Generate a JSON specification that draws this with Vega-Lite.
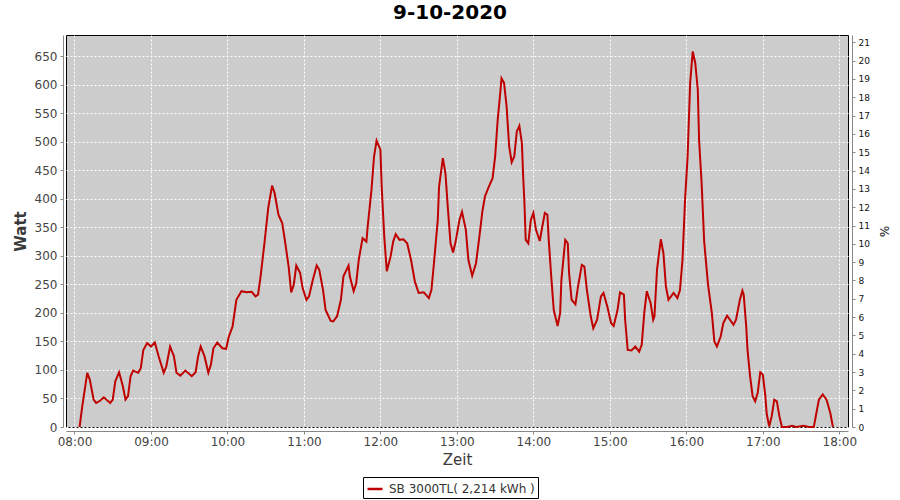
{
  "$schema": "https://vega.github.io/schema/vega-lite/v6.json",
  "width": 782,
  "height": 392,
  "autosize": {"type": "none"},
  "padding": {"left": 66, "top": 35, "right": 52, "bottom": 73},
  "background": "white",
  "config": {
    "font": "DejaVu Sans",
    "view": {"fill": "#cccccc", "stroke": "#000000", "strokeWidth": 1}
  },
  "title": {
    "text": "9-10-2020",
    "font": "DejaVu Sans",
    "fontSize": 20,
    "fontWeight": "bold",
    "color": "#000000",
    "anchor": "middle",
    "frame": "group",
    "dx": -7,
    "offset": 12
  },
  "data": {
    "values": [
      {"t": "2020-09-10T08:04:00", "w": 0},
      {"t": "2020-09-10T08:06:00", "w": 35},
      {"t": "2020-09-10T08:10:00", "w": 95},
      {"t": "2020-09-10T08:12:00", "w": 83},
      {"t": "2020-09-10T08:15:00", "w": 48},
      {"t": "2020-09-10T08:17:00", "w": 42},
      {"t": "2020-09-10T08:20:00", "w": 46},
      {"t": "2020-09-10T08:23:00", "w": 52},
      {"t": "2020-09-10T08:28:00", "w": 42},
      {"t": "2020-09-10T08:30:00", "w": 48},
      {"t": "2020-09-10T08:32:00", "w": 80},
      {"t": "2020-09-10T08:35:00", "w": 96},
      {"t": "2020-09-10T08:38:00", "w": 71},
      {"t": "2020-09-10T08:40:00", "w": 48},
      {"t": "2020-09-10T08:42:00", "w": 54},
      {"t": "2020-09-10T08:44:00", "w": 89},
      {"t": "2020-09-10T08:46:00", "w": 99},
      {"t": "2020-09-10T08:50:00", "w": 95},
      {"t": "2020-09-10T08:52:00", "w": 103},
      {"t": "2020-09-10T08:54:00", "w": 135},
      {"t": "2020-09-10T08:57:00", "w": 147},
      {"t": "2020-09-10T09:00:00", "w": 141},
      {"t": "2020-09-10T09:03:00", "w": 148},
      {"t": "2020-09-10T09:06:00", "w": 124},
      {"t": "2020-09-10T09:10:00", "w": 95},
      {"t": "2020-09-10T09:12:00", "w": 106},
      {"t": "2020-09-10T09:15:00", "w": 141},
      {"t": "2020-09-10T09:18:00", "w": 124},
      {"t": "2020-09-10T09:20:00", "w": 95},
      {"t": "2020-09-10T09:23:00", "w": 90},
      {"t": "2020-09-10T09:27:00", "w": 99},
      {"t": "2020-09-10T09:32:00", "w": 89},
      {"t": "2020-09-10T09:35:00", "w": 96},
      {"t": "2020-09-10T09:37:00", "w": 124},
      {"t": "2020-09-10T09:39:00", "w": 141},
      {"t": "2020-09-10T09:42:00", "w": 124},
      {"t": "2020-09-10T09:45:00", "w": 95},
      {"t": "2020-09-10T09:47:00", "w": 109},
      {"t": "2020-09-10T09:49:00", "w": 138},
      {"t": "2020-09-10T09:52:00", "w": 148},
      {"t": "2020-09-10T09:56:00", "w": 138},
      {"t": "2020-09-10T09:59:00", "w": 137},
      {"t": "2020-09-10T10:01:00", "w": 158},
      {"t": "2020-09-10T10:04:00", "w": 176},
      {"t": "2020-09-10T10:07:00", "w": 223},
      {"t": "2020-09-10T10:11:00", "w": 238},
      {"t": "2020-09-10T10:15:00", "w": 236},
      {"t": "2020-09-10T10:19:00", "w": 237},
      {"t": "2020-09-10T10:22:00", "w": 229},
      {"t": "2020-09-10T10:24:00", "w": 232},
      {"t": "2020-09-10T10:26:00", "w": 264},
      {"t": "2020-09-10T10:29:00", "w": 322},
      {"t": "2020-09-10T10:32:00", "w": 384},
      {"t": "2020-09-10T10:35:00", "w": 423},
      {"t": "2020-09-10T10:37:00", "w": 410},
      {"t": "2020-09-10T10:40:00", "w": 372},
      {"t": "2020-09-10T10:43:00", "w": 357},
      {"t": "2020-09-10T10:45:00", "w": 328},
      {"t": "2020-09-10T10:48:00", "w": 281},
      {"t": "2020-09-10T10:50:00", "w": 236},
      {"t": "2020-09-10T10:52:00", "w": 249},
      {"t": "2020-09-10T10:54:00", "w": 283},
      {"t": "2020-09-10T10:57:00", "w": 270},
      {"t": "2020-09-10T10:59:00", "w": 243},
      {"t": "2020-09-10T11:02:00", "w": 223},
      {"t": "2020-09-10T11:04:00", "w": 229},
      {"t": "2020-09-10T11:07:00", "w": 258},
      {"t": "2020-09-10T11:10:00", "w": 283},
      {"t": "2020-09-10T11:12:00", "w": 276},
      {"t": "2020-09-10T11:15:00", "w": 240},
      {"t": "2020-09-10T11:17:00", "w": 205},
      {"t": "2020-09-10T11:21:00", "w": 186},
      {"t": "2020-09-10T11:23:00", "w": 185},
      {"t": "2020-09-10T11:26:00", "w": 194},
      {"t": "2020-09-10T11:29:00", "w": 223},
      {"t": "2020-09-10T11:31:00", "w": 264},
      {"t": "2020-09-10T11:35:00", "w": 283},
      {"t": "2020-09-10T11:36:00", "w": 264},
      {"t": "2020-09-10T11:39:00", "w": 238},
      {"t": "2020-09-10T11:41:00", "w": 252},
      {"t": "2020-09-10T11:43:00", "w": 293},
      {"t": "2020-09-10T11:46:00", "w": 331},
      {"t": "2020-09-10T11:49:00", "w": 325},
      {"t": "2020-09-10T11:50:00", "w": 351},
      {"t": "2020-09-10T11:53:00", "w": 416},
      {"t": "2020-09-10T11:55:00", "w": 474},
      {"t": "2020-09-10T11:57:00", "w": 502},
      {"t": "2020-09-10T12:00:00", "w": 486},
      {"t": "2020-09-10T12:01:00", "w": 421},
      {"t": "2020-09-10T12:03:00", "w": 334},
      {"t": "2020-09-10T12:05:00", "w": 273},
      {"t": "2020-09-10T12:08:00", "w": 299},
      {"t": "2020-09-10T12:10:00", "w": 325},
      {"t": "2020-09-10T12:12:00", "w": 338},
      {"t": "2020-09-10T12:15:00", "w": 328},
      {"t": "2020-09-10T12:18:00", "w": 329},
      {"t": "2020-09-10T12:21:00", "w": 322},
      {"t": "2020-09-10T12:24:00", "w": 293},
      {"t": "2020-09-10T12:27:00", "w": 255},
      {"t": "2020-09-10T12:30:00", "w": 235},
      {"t": "2020-09-10T12:34:00", "w": 236},
      {"t": "2020-09-10T12:38:00", "w": 226},
      {"t": "2020-09-10T12:40:00", "w": 240},
      {"t": "2020-09-10T12:42:00", "w": 287},
      {"t": "2020-09-10T12:45:00", "w": 363},
      {"t": "2020-09-10T12:46:00", "w": 421},
      {"t": "2020-09-10T12:49:00", "w": 471},
      {"t": "2020-09-10T12:51:00", "w": 445},
      {"t": "2020-09-10T12:53:00", "w": 381},
      {"t": "2020-09-10T12:55:00", "w": 322},
      {"t": "2020-09-10T12:57:00", "w": 306},
      {"t": "2020-09-10T12:59:00", "w": 325},
      {"t": "2020-09-10T13:02:00", "w": 363},
      {"t": "2020-09-10T13:04:00", "w": 377},
      {"t": "2020-09-10T13:07:00", "w": 346},
      {"t": "2020-09-10T13:09:00", "w": 293},
      {"t": "2020-09-10T13:12:00", "w": 265},
      {"t": "2020-09-10T13:15:00", "w": 287},
      {"t": "2020-09-10T13:18:00", "w": 340},
      {"t": "2020-09-10T13:20:00", "w": 378},
      {"t": "2020-09-10T13:22:00", "w": 404},
      {"t": "2020-09-10T13:25:00", "w": 421},
      {"t": "2020-09-10T13:28:00", "w": 436},
      {"t": "2020-09-10T13:30:00", "w": 474},
      {"t": "2020-09-10T13:32:00", "w": 538},
      {"t": "2020-09-10T13:34:00", "w": 585},
      {"t": "2020-09-10T13:35:00", "w": 611},
      {"t": "2020-09-10T13:37:00", "w": 603},
      {"t": "2020-09-10T13:39:00", "w": 562},
      {"t": "2020-09-10T13:41:00", "w": 492},
      {"t": "2020-09-10T13:43:00", "w": 464},
      {"t": "2020-09-10T13:45:00", "w": 474},
      {"t": "2020-09-10T13:47:00", "w": 518},
      {"t": "2020-09-10T13:49:00", "w": 528},
      {"t": "2020-09-10T13:51:00", "w": 497},
      {"t": "2020-09-10T13:52:00", "w": 439},
      {"t": "2020-09-10T13:53:00", "w": 392},
      {"t": "2020-09-10T13:54:00", "w": 328},
      {"t": "2020-09-10T13:56:00", "w": 322},
      {"t": "2020-09-10T13:58:00", "w": 363},
      {"t": "2020-09-10T14:00:00", "w": 375},
      {"t": "2020-09-10T14:02:00", "w": 346},
      {"t": "2020-09-10T14:05:00", "w": 326},
      {"t": "2020-09-10T14:07:00", "w": 351},
      {"t": "2020-09-10T14:09:00", "w": 375},
      {"t": "2020-09-10T14:11:00", "w": 372},
      {"t": "2020-09-10T14:12:00", "w": 330},
      {"t": "2020-09-10T14:14:00", "w": 264},
      {"t": "2020-09-10T14:16:00", "w": 205},
      {"t": "2020-09-10T14:19:00", "w": 177},
      {"t": "2020-09-10T14:21:00", "w": 200},
      {"t": "2020-09-10T14:22:00", "w": 258},
      {"t": "2020-09-10T14:25:00", "w": 328},
      {"t": "2020-09-10T14:27:00", "w": 322},
      {"t": "2020-09-10T14:28:00", "w": 270},
      {"t": "2020-09-10T14:30:00", "w": 223},
      {"t": "2020-09-10T14:33:00", "w": 215},
      {"t": "2020-09-10T14:35:00", "w": 246},
      {"t": "2020-09-10T14:38:00", "w": 284},
      {"t": "2020-09-10T14:40:00", "w": 281},
      {"t": "2020-09-10T14:42:00", "w": 240},
      {"t": "2020-09-10T14:45:00", "w": 194},
      {"t": "2020-09-10T14:47:00", "w": 173},
      {"t": "2020-09-10T14:50:00", "w": 188},
      {"t": "2020-09-10T14:53:00", "w": 229},
      {"t": "2020-09-10T14:55:00", "w": 235},
      {"t": "2020-09-10T14:58:00", "w": 211},
      {"t": "2020-09-10T15:01:00", "w": 182},
      {"t": "2020-09-10T15:03:00", "w": 177},
      {"t": "2020-09-10T15:06:00", "w": 205},
      {"t": "2020-09-10T15:08:00", "w": 236},
      {"t": "2020-09-10T15:11:00", "w": 232},
      {"t": "2020-09-10T15:12:00", "w": 188},
      {"t": "2020-09-10T15:14:00", "w": 135},
      {"t": "2020-09-10T15:17:00", "w": 134},
      {"t": "2020-09-10T15:20:00", "w": 141},
      {"t": "2020-09-10T15:23:00", "w": 132},
      {"t": "2020-09-10T15:25:00", "w": 144},
      {"t": "2020-09-10T15:27:00", "w": 200},
      {"t": "2020-09-10T15:29:00", "w": 238},
      {"t": "2020-09-10T15:32:00", "w": 217},
      {"t": "2020-09-10T15:34:00", "w": 188},
      {"t": "2020-09-10T15:35:00", "w": 194},
      {"t": "2020-09-10T15:37:00", "w": 276},
      {"t": "2020-09-10T15:40:00", "w": 329},
      {"t": "2020-09-10T15:42:00", "w": 305},
      {"t": "2020-09-10T15:44:00", "w": 246},
      {"t": "2020-09-10T15:46:00", "w": 223},
      {"t": "2020-09-10T15:50:00", "w": 235},
      {"t": "2020-09-10T15:53:00", "w": 226},
      {"t": "2020-09-10T15:55:00", "w": 240},
      {"t": "2020-09-10T15:57:00", "w": 293},
      {"t": "2020-09-10T15:59:00", "w": 398},
      {"t": "2020-09-10T16:01:00", "w": 474},
      {"t": "2020-09-10T16:03:00", "w": 603},
      {"t": "2020-09-10T16:05:00", "w": 658},
      {"t": "2020-09-10T16:07:00", "w": 638},
      {"t": "2020-09-10T16:09:00", "w": 591},
      {"t": "2020-09-10T16:10:00", "w": 503},
      {"t": "2020-09-10T16:12:00", "w": 427},
      {"t": "2020-09-10T16:14:00", "w": 325},
      {"t": "2020-09-10T16:17:00", "w": 250},
      {"t": "2020-09-10T16:20:00", "w": 200},
      {"t": "2020-09-10T16:22:00", "w": 150},
      {"t": "2020-09-10T16:24:00", "w": 141},
      {"t": "2020-09-10T16:27:00", "w": 159},
      {"t": "2020-09-10T16:29:00", "w": 182},
      {"t": "2020-09-10T16:32:00", "w": 195},
      {"t": "2020-09-10T16:37:00", "w": 179},
      {"t": "2020-09-10T16:39:00", "w": 188},
      {"t": "2020-09-10T16:42:00", "w": 223},
      {"t": "2020-09-10T16:44:00", "w": 239},
      {"t": "2020-09-10T16:45:00", "w": 232},
      {"t": "2020-09-10T16:47:00", "w": 176},
      {"t": "2020-09-10T16:48:00", "w": 135},
      {"t": "2020-09-10T16:50:00", "w": 89},
      {"t": "2020-09-10T16:52:00", "w": 54},
      {"t": "2020-09-10T16:54:00", "w": 45},
      {"t": "2020-09-10T16:56:00", "w": 60},
      {"t": "2020-09-10T16:58:00", "w": 96},
      {"t": "2020-09-10T17:00:00", "w": 92},
      {"t": "2020-09-10T17:02:00", "w": 54},
      {"t": "2020-09-10T17:03:00", "w": 24},
      {"t": "2020-09-10T17:05:00", "w": 1},
      {"t": "2020-09-10T17:07:00", "w": 19},
      {"t": "2020-09-10T17:09:00", "w": 48},
      {"t": "2020-09-10T17:11:00", "w": 45},
      {"t": "2020-09-10T17:13:00", "w": 19},
      {"t": "2020-09-10T17:15:00", "w": 0},
      {"t": "2020-09-10T17:19:00", "w": 0},
      {"t": "2020-09-10T17:23:00", "w": 2},
      {"t": "2020-09-10T17:26:00", "w": 0},
      {"t": "2020-09-10T17:32:00", "w": 2},
      {"t": "2020-09-10T17:36:00", "w": 0},
      {"t": "2020-09-10T17:40:00", "w": 0},
      {"t": "2020-09-10T17:42:00", "w": 24},
      {"t": "2020-09-10T17:44:00", "w": 48},
      {"t": "2020-09-10T17:47:00", "w": 57},
      {"t": "2020-09-10T17:50:00", "w": 48},
      {"t": "2020-09-10T17:53:00", "w": 24},
      {"t": "2020-09-10T17:55:00", "w": 0}
    ]
  },
  "layer": [
    {
      "mark": {"type": "line", "strokeWidth": 2, "interpolate": "linear"},
      "encoding": {
        "x": {
          "field": "t",
          "type": "temporal",
          "scale": {
            "domain": [
              {"year": 2020, "month": 9, "date": 10, "hours": 7, "minutes": 53, "seconds": 20},
              {"year": 2020, "month": 9, "date": 10, "hours": 18, "minutes": 6, "seconds": 50}
            ],
            "nice": false
          },
          "axis": {
            "title": "Zeit",
            "format": "%H:%M",
            "tickCount": 11,
            "offset": 4,
            "domainColor": "#888888",
            "tickColor": "#888888",
            "tickSize": 3,
            "labelFont": "DejaVu Sans",
            "labelFontSize": 12,
            "labelColor": "#444444",
            "labelPadding": 2,
            "labelFlush": false,
            "titleFont": "DejaVu Sans",
            "titleFontSize": 15,
            "titleFontWeight": "normal",
            "titleColor": "#3a3a3a",
            "titlePadding": 5,
            "grid": true,
            "gridColor": "#ffffff",
            "gridDash": [2, 2],
            "gridOpacity": 1,
            "gridWidth": 1
          }
        },
        "y": {
          "field": "w",
          "type": "quantitative",
          "scale": {"domain": [0, 687], "nice": false},
          "axis": {
            "title": "Watt",
            "values": [0, 50, 100, 150, 200, 250, 300, 350, 400, 450, 500, 550, 600, 650],
            "offset": 3,
            "domainColor": "#888888",
            "tickColor": "#888888",
            "tickSize": 3,
            "labelFont": "DejaVu Sans",
            "labelFontSize": 12,
            "labelColor": "#444444",
            "labelPadding": 3,
            "titleFont": "DejaVu Sans",
            "titleFontSize": 15,
            "titleFontWeight": 600,
            "titleColor": "#3a3a3a",
            "titlePadding": 6,
            "grid": true,
            "gridColor": "#ffffff",
            "gridDash": [2, 2],
            "gridOpacity": 1,
            "gridWidth": 1
          }
        },
        "color": {
          "datum": "SB 3000TL( 2,214 kWh )",
          "type": "nominal",
          "scale": {"range": ["#bf0000"]},
          "legend": {
            "title": null,
            "orient": "none",
            "legendX": 297,
            "legendY": 442,
            "strokeColor": "#000000",
            "fillColor": "#ffffff",
            "padding": 3,
            "cornerRadius": 0,
            "symbolType": "stroke",
            "symbolStrokeWidth": 2.5,
            "symbolSize": 225,
            "labelOffset": 5,
            "labelFont": "DejaVu Sans",
            "labelFontSize": 12,
            "labelColor": "#333333"
          }
        }
      }
    },
    {
      "data": {"values": [{"pct": 0}, {"pct": 21}]},
      "mark": {"type": "point", "opacity": 0},
      "encoding": {
        "y": {
          "field": "pct",
          "type": "quantitative",
          "scale": {"domain": [0, 21.4], "nice": false},
          "axis": {
            "orient": "right",
            "title": "%",
            "values": [0, 1, 2, 3, 4, 5, 6, 7, 8, 9, 10, 11, 12, 13, 14, 15, 16, 17, 18, 19, 20, 21],
            "offset": 4,
            "grid": false,
            "domainColor": "#888888",
            "tickColor": "#888888",
            "tickSize": 3,
            "labelFont": "DejaVu Sans",
            "labelFontSize": 9,
            "labelColor": "#111111",
            "labelPadding": 3,
            "titleFont": "DejaVu Sans",
            "titleFontSize": 12,
            "titleFontWeight": "normal",
            "titleColor": "#111111",
            "titlePadding": 7
          }
        }
      }
    }
  ],
  "resolve": {"scale": {"y": "independent"}, "axis": {"y": "independent"}}
}
